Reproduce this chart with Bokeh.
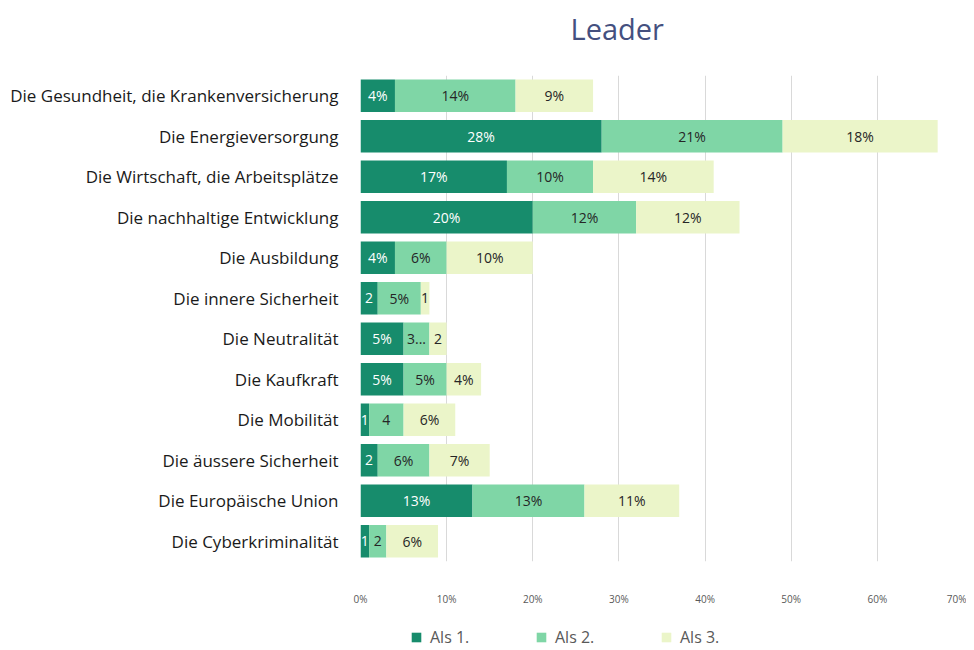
from bokeh.plotting import figure
from bokeh.layouts import column
from bokeh.models import ColumnDataSource, Legend, LegendItem, NumeralTickFormatter, FixedTicker, Range1d, FactorRange, Label
from bokeh.core.properties import value
from bokeh.embed import file_html
from bokeh.resources import INLINE

title_text = "Leader"
categories = [
    "Die Gesundheit, die Krankenversicherung",
    "Die Energieversorgung",
    "Die Wirtschaft, die Arbeitsplätze",
    "Die nachhaltige Entwicklung",
    "Die Ausbildung",
    "Die innere Sicherheit",
    "Die Neutralität",
    "Die Kaufkraft",
    "Die Mobilität",
    "Die äussere Sicherheit",
    "Die Europäische Union",
    "Die Cyberkriminalität",
]
als1 = [4, 28, 17, 20, 4, 2, 5, 5, 1, 2, 13, 1]
als2 = [14, 21, 10, 12, 6, 5, 3, 5, 4, 6, 13, 2]
als3 = [9, 18, 14, 12, 10, 1, 2, 4, 6, 7, 11, 6]
labels1 = ["4%", "28%", "17%", "20%", "4%", "2", "5%", "5%", "1", "2", "13%", "1"]
labels2 = ["14%", "21%", "10%", "12%", "6%", "5%", "3...", "5%", "4", "6%", "13%", "2"]
labels3 = ["9%", "18%", "14%", "12%", "10%", "1", "2", "4%", "6%", "7%", "11%", "6%"]
series_names = ["Als 1.", "Als 2.", "Als 3."]
colors = ["#178C6C", "#7FD6A6", "#EBF5C9"]
label_colors = ["#FFFFFF", "#262626", "#262626"]
x_ticks = [0, 0.1, 0.2, 0.3, 0.4, 0.5, 0.6, 0.7]

FONT = "Open Sans"

# header strip with the chart title (its frame aligns with the chart's frame)
hd = figure(width=966, height=48, x_range=Range1d(0, 1), y_range=Range1d(0, 1),
            output_backend="svg", toolbar_location=None,
            min_border_left=0, min_border_right=0, min_border_top=0, min_border_bottom=0)
hd.axis.visible = False
hd.grid.visible = False
hd.outline_line_color = None
hd.add_layout(Label(x=210, y=20, x_units="screen", y_units="screen", text=title_text,
                    text_font=FONT, text_font_size="29px", text_color="#44507F",
                    text_baseline="middle", text_align="left"))

p = figure(
    width=966, height=560,
    y_range=FactorRange(*list(reversed(categories))),
    x_range=Range1d(0, 0.7),
    output_backend="svg", toolbar_location=None,
    min_border_left=360, min_border_right=3, min_border_top=27, min_border_bottom=38,
)
p.outline_line_color = None

series = [als1, als2, als3]
labels = [labels1, labels2, labels3]
left = [0.0] * len(categories)
for i, vals in enumerate(series):
    frac = [v / 100 for v in vals]
    right = [l + f for l, f in zip(left, frac)]
    mid = [(l + r) / 2 for l, r in zip(left, right)]
    src = ColumnDataSource(dict(cat=categories, left=left, right=right, mid=mid, lab=labels[i]))
    p.hbar(y="cat", left="left", right="right", height=0.8, source=src,
           fill_color=colors[i], line_color=None)
    p.text(x="mid", y="cat", text="lab", source=src, text_align="center", text_baseline="middle",
           text_font=value(FONT), text_font_size="14px", text_color=label_colors[i])
    left = right

p.xaxis.ticker = FixedTicker(ticks=x_ticks)
p.xaxis.formatter = NumeralTickFormatter(format="0%")
p.xaxis.major_label_text_font = FONT
p.xaxis.major_label_text_font_size = "10px"
p.xaxis.major_label_text_color = "#595959"
p.xaxis.axis_line_color = None
p.xaxis.major_tick_line_color = None
p.xaxis.minor_tick_line_color = None
p.xaxis.major_label_standoff = 24

p.yaxis.major_label_text_font = FONT
p.yaxis.major_label_text_font_size = "17px"
p.yaxis.major_label_text_color = "#1A1A1A"
p.yaxis.axis_line_color = None
p.yaxis.major_tick_line_color = None
p.yaxis.minor_tick_line_color = None
p.yaxis.major_label_standoff = 16

p.xgrid.grid_line_color = "#D9D9D9"
p.ygrid.grid_line_color = None

# legend strip below the chart (its frame aligns with the chart's frame)
lg = figure(width=966, height=40, x_range=Range1d(0, 1), y_range=Range1d(0, 1),
            output_backend="svg", toolbar_location=None,
            min_border_left=0, min_border_right=0, min_border_top=0, min_border_bottom=0)
lg.axis.visible = False
lg.grid.visible = False
lg.outline_line_color = None
# zero-width placeholder bars: they only supply the legend swatches
leg_renderers = [lg.hbar(y=[0.5], left=[0], right=[0], height=0, fill_color=c, line_color=None)
                 for c in colors]
legend = Legend(
    items=[LegendItem(label=series_names[i], renderers=[leg_renderers[i]]) for i in range(3)],
    orientation="horizontal", location=(50, 0),
    glyph_width=12, glyph_height=12, label_standoff=8, label_width=105, spacing=0,
    padding=0, margin=0, border_line_color=None, background_fill_alpha=0,
    label_text_font=FONT, label_text_font_size="16px", label_text_color="#595959",
)
lg.add_layout(legend, "center")

layout = column(hd, p, lg, spacing=0)
open("out.html", "w").write(file_html(layout, INLINE))
